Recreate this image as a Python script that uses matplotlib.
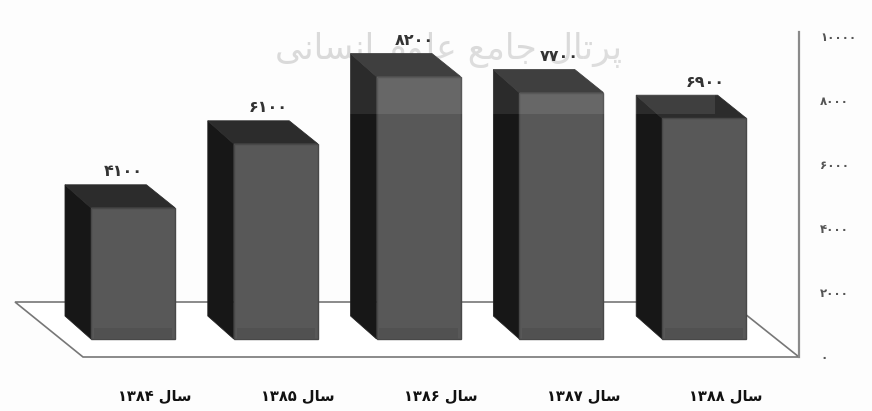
import matplotlib
matplotlib.use("Agg")
import matplotlib.pyplot as plt
from matplotlib.patches import Polygon, Rectangle

plt.rcParams['font.family'] = ['DejaVu Sans']

# values as printed on the bars
values = [4100, 6100, 8200, 7700, 6900]
value_labels = ["۴۱۰۰", "۶۱۰۰", "۸۲۰۰", "۷۷۰۰", "۶۹۰۰"]
years = ["۱۳۸۴", "۱۳۸۵", "۱۳۸۶", "۱۳۸۷", "۱۳۸۸"]
y_ticks = [0, 2000, 4000, 6000, 8000, 10000]
y_tick_labels = ["۰", "۲۰۰۰", "۴۰۰۰", "۶۰۰۰", "۸۰۰۰", "۱۰۰۰۰"]

# matplotlib does no arabic shaping, so joined forms are given by hand (logical order)
sal = "\ufeb3\ufe8e\ufedd"
watermark_words = ["\ufb58\ufeae\ufe97\ufe8e\ufedd",
                   "\ufe9f\ufe8e\ufee3\ufeca",
                   "\ufecb\ufee0\ufeee\ufee1",
                   "\ufe8d\ufee7\ufeb4\ufe8e\ufee7\ufef0"]

px_per_bar = 142.8
px_per_unit = 0.032
x0 = 133
y0 = 339


def X(px):
    return (px - x0) / px_per_bar


def Y(py):
    return (y0 - py) / px_per_unit


fig = plt.figure(figsize=(8.72, 4.11), dpi=100, facecolor="#fdfdfd")
ax = fig.add_axes([0, 0, 1, 1])
ax.set_xlim(X(0), X(872))
ax.set_ylim(Y(411), Y(0))
ax.axis("off")

# floor and wall line
floor = [(X(15), Y(302)), (X(730), Y(302)), (X(799), Y(357)), (X(83), Y(357))]
ax.add_patch(Polygon(floor, closed=True, fc="white", ec="#777777", lw=1.2, zorder=1))
ax.plot([X(799), X(799)], [Y(357), Y(32)], color="#8a8a8a", lw=1.6, zorder=1)

# watermark
ax.text(X(448), Y(50), " ".join(w[::-1] for w in watermark_words[::-1]), fontsize=25,
        color="#dadada", ha="center", va="center", zorder=2)

half = 42 / px_per_bar
dx = 26 / px_per_bar
dy = 23 / px_per_unit
for i, v in enumerate(values):
    left, right = i - half, i + half
    side = [(left, 0), (left - dx, dy), (left - dx, v + dy), (left, v)]
    top = [(left - dx, v + dy), (right - dx * 1.1, v + dy), (right, v), (left, v)]
    ax.add_patch(Polygon(side, closed=True, fc="#171717", ec="#222222", lw=0.6, zorder=3))
    ax.add_patch(Polygon(top, closed=True, fc="#2c2c2c", ec="#2c2c2c", lw=0.6, zorder=3))
    ax.add_patch(Rectangle((left, 0), 2 * half, v, fc="#585858", ec="#484848", lw=1, zorder=4))
    ax.add_patch(Rectangle((left + 0.02, 0), 2 * half - 0.04, 350, fc="#515151", ec="none", zorder=4))
    label_x = i + (-10 + 2.7 * i) / px_per_bar
    ax.text(label_x, v + dy + 13 / px_per_unit, value_labels[i], fontsize=11.5, fontweight="bold",
            color="#333333", ha="center", va="center", zorder=6)
    ax.text(i + 22 / px_per_bar, Y(396), years[i] + " " + sal[::-1], fontsize=10.5, fontweight="bold",
            color="#111111", ha="center", va="center", zorder=6)

# paler band across the upper part of the scan
ax.add_patch(Rectangle((X(350), Y(114)), X(715) - X(350), Y(50) - Y(114), fc="white", ec="none", alpha=0.09, zorder=5))

for t, lab in zip(y_ticks, y_tick_labels):
    ax.text(X(820), Y(357) + t, lab, fontsize=8.5, fontweight="bold", color="#555555",
            ha="left", va="center", zorder=6)

fig.savefig("out.png", dpi=100, facecolor=fig.get_facecolor())
